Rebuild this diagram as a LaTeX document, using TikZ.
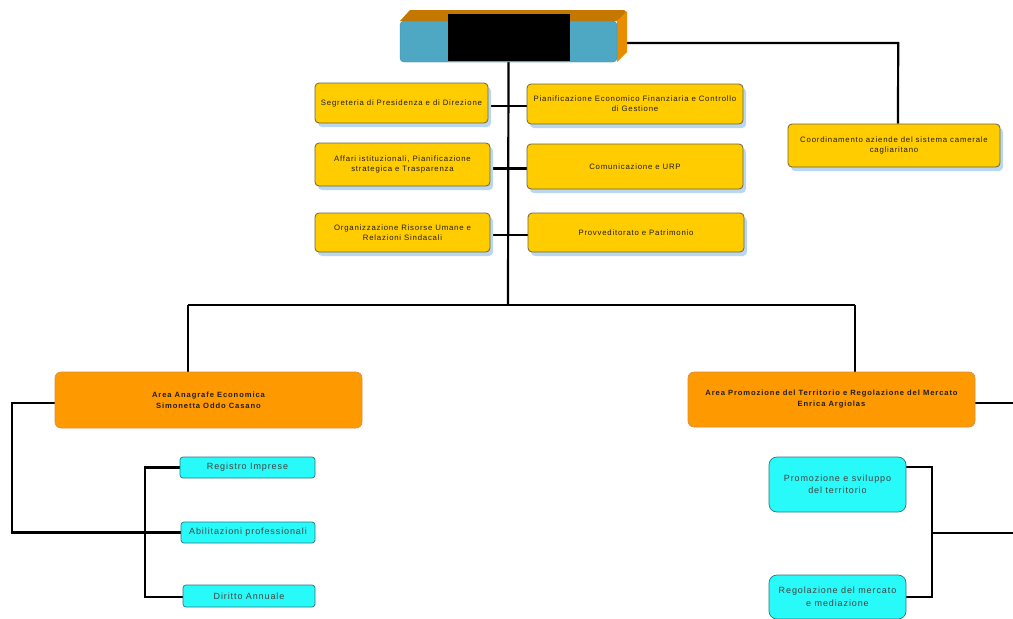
\documentclass[tikz,border=0pt]{standalone}
\usepackage{fontspec}
\setmainfont{Liberation Sans}
\newfontfamily\spy[LetterSpace=10]{Liberation Sans}
\newfontfamily\spo[LetterSpace=12]{Liberation Sans}
\newfontfamily\spc[LetterSpace=10]{Liberation Sans}
\usetikzlibrary{shadows,backgrounds}
\definecolor{yfill}{RGB}{255,204,0}
\definecolor{yedge}{RGB}{110,100,60}
\definecolor{ofill}{RGB}{255,153,0}
\definecolor{oedge}{RGB}{220,140,60}
\definecolor{cfill}{RGB}{40,250,250}
\definecolor{cedge}{RGB}{40,120,130}
\definecolor{shblue}{RGB}{185,215,240}
\definecolor{topblue}{RGB}{78,168,196}
\definecolor{toptop}{RGB}{196,120,0}
\definecolor{topside}{RGB}{232,140,0}
\definecolor{txt}{RGB}{35,30,25}
\begin{document}
\begin{tikzpicture}[x=1pt,y=-1pt,
  ybox/.style={draw=yedge, fill=yfill, rounded corners=4pt, line width=0.8pt, align=center,
    text=txt, font=\spy\fontsize{7.8}{10}\selectfont, inner sep=0pt,
    drop shadow={shadow xshift=3pt, shadow yshift=-4pt, fill=shblue, opacity=1}},
  obox/.style={draw=oedge, fill=ofill, rounded corners=6pt, line width=0.6pt, align=center,
    text=txt, font=\spo\bfseries\fontsize{7.6}{11}\selectfont, inner sep=0pt},
  cbox/.style={draw=cedge, fill=cfill, rounded corners=3pt, line width=0.7pt, align=center,
    text=txt!85, font=\spc\fontsize{9}{12.5}\selectfont, inner sep=0pt},
  conn/.style={line width=2.2pt, black}]
\useasboundingbox (0,0) rectangle (1013,619);

% top 3D box
\fill[toptop] (400,21) -- (410,10) -- (624,10) -- (627,13) -- (617,21) -- cycle;
\fill[topside] (617,21) -- (627,11) -- (627,52) -- (617,62) -- cycle;
\node[fill=topblue, draw=topblue!80!black, line width=0.4pt, rounded corners=4pt,
  minimum width=217pt, minimum height=41pt, inner sep=0pt] (top) at (508.5,41.5) {};
\node[fill=black, minimum width=122pt, minimum height=47pt, inner sep=0pt] (redact) at (509,37.5) {};

% yellow boxes
\node[ybox, minimum width=173pt, minimum height=40pt] (seg) at (401.5,103) {Segreteria di Presidenza e di Direzione};
\node[ybox, minimum width=216pt, minimum height=40pt] (pian) at (635,104) {Pianificazione Economico Finanziaria e Controllo\\di Gestione};
\node[ybox, minimum width=175pt, minimum height=43pt] (aff) at (402.5,164.5) {Affari istituzionali, Pianificazione\\strategica e Trasparenza};
\node[ybox, minimum width=216pt, minimum height=45pt] (com) at (635,166.5) {Comunicazione e URP};
\node[ybox, minimum width=175pt, minimum height=39pt] (org) at (402.5,232.5) {Organizzazione Risorse Umane e\\Relazioni Sindacali};
\node[ybox, minimum width=216pt, minimum height=39pt] (prov) at (636,232.5) {Provveditorato e Patrimonio};
\node[ybox, minimum width=212pt, minimum height=43pt] (coord) at (894,145.5) {Coordinamento aziende del sistema camerale\\cagliaritano};

% orange boxes
\node[obox, minimum width=307pt, minimum height=56pt] (areaA) at (208.5,400) {Area Anagrafe Economica\\Simonetta Oddo Casano};
\node[obox, minimum width=287pt, minimum height=55pt] (areaP) at (831.5,399.5) {Area Promozione del Territorio e Regolazione del Mercato\\Enrica Argiolas};

% cyan boxes
\node[cbox, minimum width=135pt, minimum height=21pt] (reg) at (247.5,467.5) {Registro Imprese};
\node[cbox, minimum width=134pt, minimum height=21pt] (abi) at (248,532.5) {Abilitazioni professionali};
\node[cbox, minimum width=132pt, minimum height=22pt] (dir) at (249,596) {Diritto Annuale};
\node[cbox, rounded corners=8pt, minimum width=137pt, minimum height=55pt] (prom) at (837.5,484.5) {Promozione e sviluppo\\del territorio};
\node[cbox, rounded corners=8pt, minimum width=137pt, minimum height=44pt] (regol) at (837.5,597) {Regolazione del mercato\\e mediazione};

\coordinate (bus) at (508,305);
\coordinate (jA) at (188,305);
\coordinate (jP) at (855,305);
\coordinate (offR1) at (1013,403);
\coordinate (offR2) at (1013,533);
\coordinate (brR) at (932,533);

\begin{pgfonlayer}{background}
\fill[white] (0,0) rectangle (1013,619);
\draw[conn] (top.south) -- (bus);
\draw[conn] (jA) -- (jP);
\draw[conn] (jA) -- (jA |- areaA.north);
\draw[conn] (jP) -- (jP |- areaP.north);
\draw[conn] ([yshift=-3pt]seg.east) -- ([yshift=-3pt]seg.east -| pian.west);
\draw[conn] ([yshift=-4pt]aff.east) -- ([yshift=-4pt]aff.east -| com.west);
\draw[conn] ([yshift=-2.5pt]org.east) -- ([yshift=-2.5pt]org.east -| prov.west);
\draw[conn] ([yshift=-1.5pt]top.east) -- ++(281,0) -- ([xshift=4pt]coord.north);
\draw[conn] ([yshift=-3pt]areaA.west) -- ++(-43,0) |- (abi.west);
\draw[conn] (reg.west) -- ++(-35,0) |- ([yshift=-1pt]dir.west);
\draw[conn] ([yshift=-3.5pt]areaP.east) -- (offR1);
\draw[conn] (offR2) -- (brR);
\draw[conn] ([yshift=17.5pt]prom.east) -- ++(26,0) |- (regol.east);
\end{pgfonlayer}
\end{tikzpicture}
\end{document}
